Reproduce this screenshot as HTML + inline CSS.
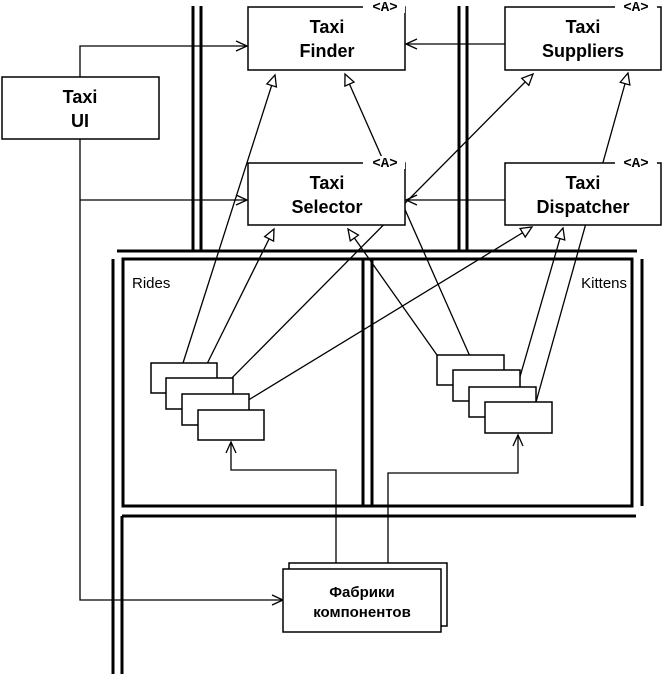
<!DOCTYPE html>
<html><head><meta charset="utf-8"><style>
html,body{margin:0;padding:0;background:#fff}
svg{display:block}
.b{font-family:"Liberation Sans",sans-serif;font-weight:bold;font-size:18px;text-anchor:middle}
.t{font-family:"Liberation Mono",monospace;font-weight:bold;font-size:14px;text-anchor:middle}
</style></head><body>
<svg width="664" height="674" viewBox="0 0 664 674" xmlns="http://www.w3.org/2000/svg">
<defs>
<marker id="tri" markerWidth="14" markerHeight="14" refX="12" refY="6" orient="auto" markerUnits="userSpaceOnUse">
<path d="M1,1 L12,6 L1,11 Z" fill="#fff" stroke="#000" stroke-width="1.3"/></marker>
<marker id="opn" markerWidth="14" markerHeight="14" refX="12" refY="6" orient="auto" markerUnits="userSpaceOnUse">
<path d="M1,1 L12,6 L1,11" fill="none" stroke="#000" stroke-width="1.3"/></marker>
</defs>
<g stroke="#000" fill="none">
<g stroke-width="3">
<line x1="193" y1="6" x2="193" y2="251"/><line x1="201" y1="6" x2="201" y2="251"/>
<line x1="459" y1="6" x2="459" y2="251"/><line x1="467" y1="6" x2="467" y2="251"/>
<line x1="117" y1="251" x2="637" y2="251"/>
<rect x="123" y="259" width="509" height="247"/>
<line x1="363" y1="259" x2="363" y2="506"/><line x1="372" y1="259" x2="372" y2="506"/>
<line x1="642" y1="259" x2="642" y2="506"/>
<line x1="113" y1="259" x2="113" y2="674"/>
<line x1="122" y1="516" x2="122" y2="674"/>
<line x1="122" y1="516" x2="636" y2="516"/>
</g>
<g stroke-width="1.3">
<polyline points="80,77 80,46 247,46" marker-end="url(#opn)"/>
<polyline points="80,139 80,600 283,600" marker-end="url(#opn)"/>
<line x1="80" y1="200" x2="247" y2="200" marker-end="url(#opn)"/>
<line x1="505" y1="44" x2="406" y2="44" marker-end="url(#opn)"/>
<line x1="505" y1="200" x2="406" y2="200" marker-end="url(#opn)"/>
<polyline points="336,569 336,470 231,470 231,442" marker-end="url(#opn)"/>
<polyline points="388,569 388,473 518,473 518,435" marker-end="url(#opn)"/>
<line x1="183" y1="363" x2="275" y2="75" marker-end="url(#tri)"/>
<line x1="200" y1="378" x2="274" y2="229" marker-end="url(#tri)"/>
<line x1="216" y1="394" x2="533" y2="74" marker-end="url(#tri)"/>
<line x1="232" y1="410" x2="532" y2="227" marker-end="url(#tri)"/>
<line x1="437" y1="355" x2="348" y2="229" marker-end="url(#tri)"/>
<line x1="476" y1="370" x2="345" y2="74" marker-end="url(#tri)"/>
<line x1="517" y1="387" x2="563" y2="228" marker-end="url(#tri)"/>
<line x1="536" y1="402" x2="628" y2="73" marker-end="url(#tri)"/>
</g>
<g stroke-width="1.5" fill="#fff">
<rect x="248" y="7" width="157" height="63"/>
<rect x="505" y="7" width="156" height="63"/>
<rect x="2" y="77" width="157" height="62"/>
<rect x="248" y="163" width="157" height="62"/>
<rect x="505" y="163" width="156" height="62"/>
<rect x="151" y="363" width="66" height="30"/>
<rect x="166" y="378" width="67" height="31"/>
<rect x="182" y="394" width="67" height="31"/>
<rect x="198" y="410" width="66" height="30"/>
<rect x="437" y="355" width="67" height="30"/>
<rect x="453" y="370" width="67" height="31"/>
<rect x="469" y="387" width="67" height="30"/>
<rect x="485" y="402" width="67" height="31"/>
<rect x="289" y="563" width="158" height="63"/>
<rect x="283" y="569" width="158" height="63"/>
</g>
<g fill="#fff" stroke="none">
<rect x="363" y="0" width="42" height="13"/><rect x="615" y="0" width="42" height="13"/>
<rect x="363" y="156" width="42" height="13"/><rect x="615" y="156" width="42" height="13"/>
</g>
</g>
<g class="t">
<text x="385" y="11">&lt;A&gt;</text><text x="636" y="11">&lt;A&gt;</text>
<text x="385" y="167">&lt;A&gt;</text><text x="636" y="167">&lt;A&gt;</text>
</g>
<g class="b">
<text x="327" y="33">Taxi</text><text x="327" y="57">Finder</text>
<text x="583" y="33">Taxi</text><text x="583" y="57">Suppliers</text>
<text x="80" y="103">Taxi</text><text x="80" y="127">UI</text>
<text x="327" y="189">Taxi</text><text x="327" y="213">Selector</text>
<text x="583" y="189">Taxi</text><text x="583" y="213">Dispatcher</text>
</g>
<g font-family="Liberation Sans,sans-serif" font-size="15">
<text x="132" y="288">Rides</text>
<text x="627" y="288" text-anchor="end">Kittens</text>
</g>
<g font-family="Liberation Sans,sans-serif" font-weight="bold" font-size="15" text-anchor="middle">
<text x="362" y="597">Фабрики</text><text x="362" y="617">компонентов</text>
</g>
</svg>
</body></html>
